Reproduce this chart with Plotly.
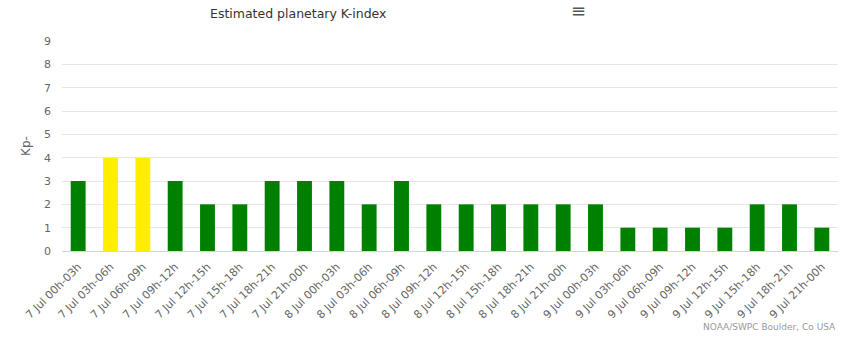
import plotly.graph_objects as go

categories = ["7 Jul 00h-03h", "7 Jul 03h-06h", "7 Jul 06h-09h", "7 Jul 09h-12h",
              "7 Jul 12h-15h", "7 Jul 15h-18h", "7 Jul 18h-21h", "7 Jul 21h-00h",
              "8 Jul 00h-03h", "8 Jul 03h-06h", "8 Jul 06h-09h", "8 Jul 09h-12h",
              "8 Jul 12h-15h", "8 Jul 15h-18h", "8 Jul 18h-21h", "8 Jul 21h-00h",
              "9 Jul 00h-03h", "9 Jul 03h-06h", "9 Jul 06h-09h", "9 Jul 09h-12h",
              "9 Jul 12h-15h", "9 Jul 15h-18h", "9 Jul 18h-21h", "9 Jul 21h-00h"]
kp_values = [3, 4, 4, 3, 2, 2, 3, 3, 3, 2, 3, 2, 2, 2, 2, 2, 2, 1, 1, 1, 1, 2, 2, 1]
y_ticks = [0, 1, 2, 3, 4, 5, 6, 7, 8, 9]

GREEN = "#008000"
YELLOW = "#FFEE00"
colors = [YELLOW if v == 4 else GREEN for v in kp_values]

font_family = "DejaVu Sans, Verdana, sans-serif"

fig = go.Figure(go.Bar(
    x=categories, y=kp_values, marker=dict(color=colors, line=dict(width=0)),
    width=0.46, hoverinfo="x+y"))

fig.update_layout(
    width=852, height=347,
    margin=dict(l=62, r=14, t=41, b=96),
    paper_bgcolor="white", plot_bgcolor="white",
    showlegend=False,
    font=dict(family=font_family, color="#666666", size=11),
    title=dict(text="Estimated planetary K-index", xref="container", yref="container",
               x=210/852, xanchor="left", y=1 - 14/347, yanchor="middle",
               font=dict(size=12.5, color="#333333", family=font_family)),
    xaxis=dict(tickangle=-45, tickfont=dict(size=11, color="#666666"),
               showline=True, linecolor="#ccd6eb", linewidth=1,
               showgrid=False, ticks="", range=[-0.5, 23.5], ticklabelstandoff=4),
    yaxis=dict(range=[0, 9], tickvals=y_ticks, showgrid=True, gridcolor="#e6e6e6",
               zeroline=False, ticks="", tickfont=dict(size=11, color="#666666"),
               ticklabelstandoff=10,
               title=dict(text="Kp-", font=dict(size=12, color="#666666"), standoff=10)),
    annotations=[
        dict(text="≡", xref="paper", yref="paper", x=(578-62)/776, y=1 + (41-10)/210,
             showarrow=False, font=dict(size=18, color="#555555"), xanchor="center", yanchor="middle"),
        dict(text="NOAA/SWPC Boulder, Co USA", xref="paper", yref="paper", x=1, xanchor="right",
             y=-(327-251)/210, yanchor="middle", showarrow=False,
             font=dict(size=9, color="#999999")),
    ],
)

fig.write_html("out.html")
